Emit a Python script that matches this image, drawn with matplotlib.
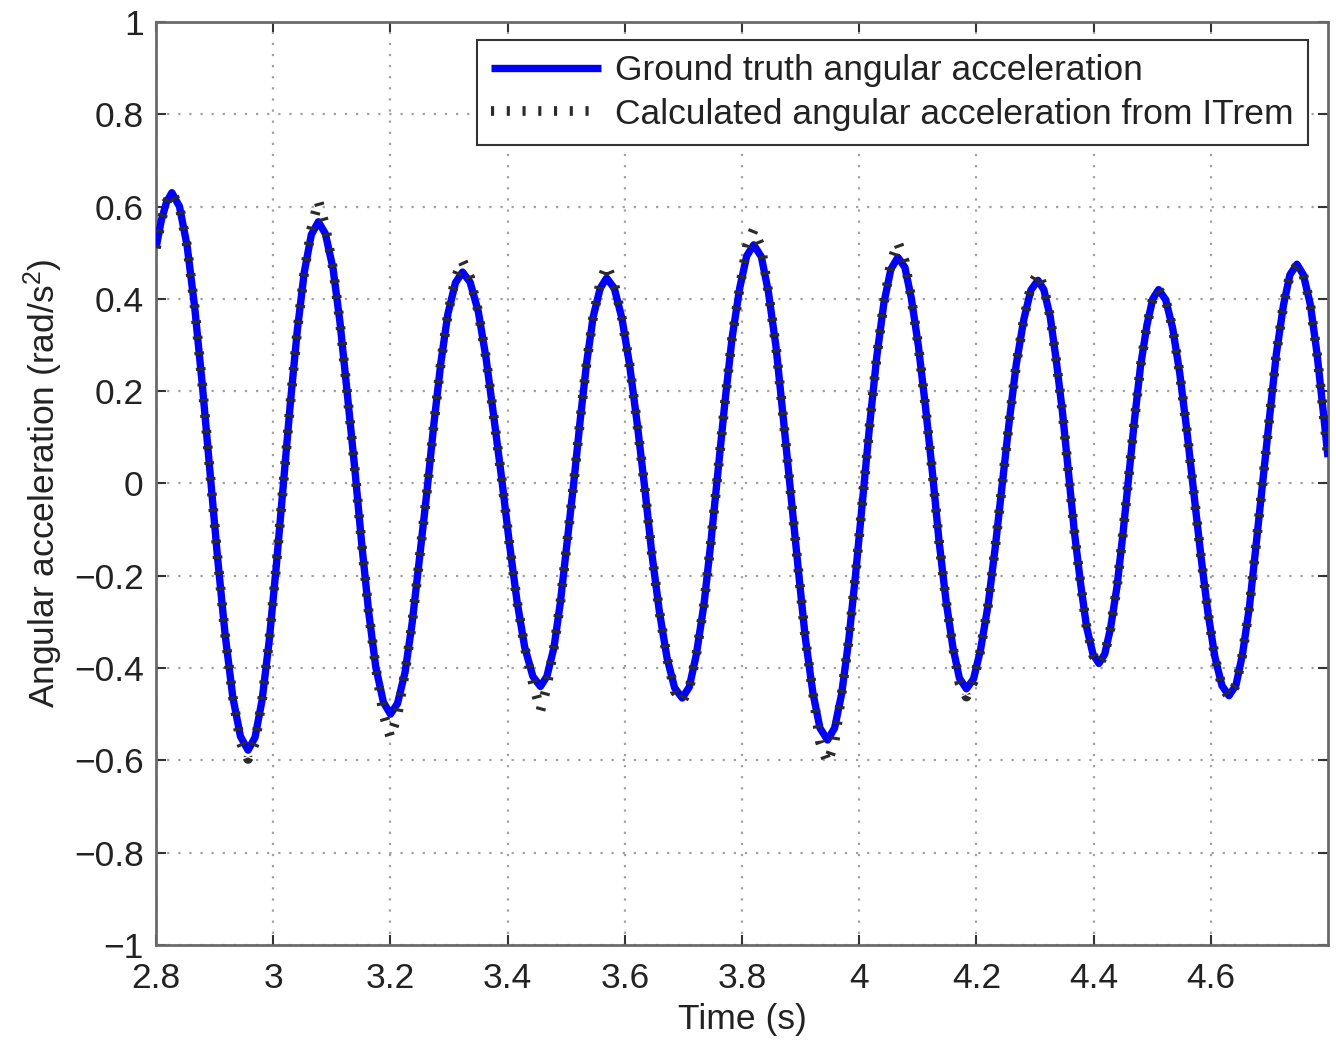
import matplotlib
matplotlib.use("Agg")
import matplotlib.pyplot as plt

# ---- data ----
time_s = [
    2.800, 2.809, 2.818,
    2.827, 2.840, 2.853, 2.866, 2.879, 2.892, 2.905, 2.918, 2.931, 2.944,
    2.957, 2.969, 2.981, 2.993, 3.005, 3.017, 3.029, 3.041, 3.053, 3.065,
    3.077, 3.089, 3.102, 3.114, 3.126, 3.139, 3.151, 3.163, 3.175, 3.188,
    3.200, 3.212, 3.225, 3.237, 3.249, 3.262, 3.274, 3.286, 3.298, 3.311,
    3.323, 3.336, 3.350, 3.363, 3.376, 3.390, 3.403, 3.416, 3.429, 3.443,
    3.456, 3.467, 3.479, 3.490, 3.501, 3.513, 3.524, 3.535, 3.546, 3.558,
    3.569, 3.582, 3.595, 3.608, 3.621, 3.634, 3.646, 3.659, 3.672, 3.685,
    3.698, 3.710, 3.722, 3.735, 3.747, 3.759, 3.771, 3.783, 3.796, 3.808,
    3.820, 3.833, 3.845, 3.858, 3.870, 3.883, 3.896, 3.908, 3.921, 3.933,
    3.946, 3.958, 3.970, 3.982, 3.994, 4.006, 4.018, 4.030, 4.042, 4.054,
    4.066, 4.078, 4.089, 4.101, 4.113, 4.125, 4.136, 4.148, 4.160, 4.171,
    4.183, 4.195, 4.207, 4.220, 4.232, 4.244, 4.256, 4.268, 4.281, 4.293,
    4.305, 4.315, 4.326, 4.336, 4.347, 4.357, 4.367, 4.378, 4.388, 4.399,
    4.409, 4.419, 4.429, 4.440, 4.450, 4.460, 4.470, 4.480, 4.491, 4.501,
    4.511, 4.523, 4.535, 4.547, 4.559, 4.571, 4.583, 4.595, 4.607, 4.619,
    4.631, 4.643, 4.654, 4.666, 4.677, 4.689, 4.701, 4.712, 4.724, 4.735,
    4.747, 4.758, 4.770, 4.781, 4.792, 4.800,
]

ground_truth = [
    0.510, 0.570, 0.610,
    0.630, 0.600, 0.515, 0.381, 0.213, 0.026, -0.161, -0.329, -0.463, -0.548,
    -0.578, -0.550, -0.469, -0.342, -0.182, -0.006, 0.171, 0.331, 0.458, 0.539,
    0.567, 0.541, 0.466, 0.348, 0.199, 0.034, -0.131, -0.280, -0.398, -0.474,
    -0.500, -0.477, -0.409, -0.303, -0.169, -0.021, 0.127, 0.261, 0.367, 0.435,
    0.458, 0.436, 0.372, 0.273, 0.148, 0.009, -0.130, -0.255, -0.354, -0.418,
    -0.440, -0.418, -0.356, -0.258, -0.134, 0.003, 0.139, 0.263, 0.361, 0.423,
    0.445, 0.423, 0.358, 0.258, 0.131, -0.010, -0.151, -0.278, -0.378, -0.443,
    -0.465, -0.441, -0.371, -0.263, -0.126, 0.026, 0.178, 0.315, 0.423, 0.493,
    0.517, 0.491, 0.415, 0.296, 0.147, -0.020, -0.186, -0.335, -0.454, -0.530,
    -0.556, -0.530, -0.456, -0.341, -0.195, -0.033, 0.129, 0.275, 0.390, 0.464,
    0.490, 0.468, 0.401, 0.298, 0.167, 0.023, -0.122, -0.253, -0.356, -0.422,
    -0.445, -0.424, -0.361, -0.263, -0.140, -0.003, 0.134, 0.258, 0.356, 0.419,
    0.440, 0.420, 0.361, 0.269, 0.153, 0.025, -0.103, -0.219, -0.311, -0.370,
    -0.390, -0.370, -0.313, -0.223, -0.110, 0.015, 0.140, 0.253, 0.343, 0.400,
    0.420, 0.398, 0.336, 0.239, 0.116, -0.020, -0.156, -0.279, -0.376, -0.438,
    -0.460, -0.437, -0.371, -0.267, -0.137, 0.008, 0.152, 0.282, 0.386, 0.452,
    0.475, 0.452, 0.387, 0.284, 0.155, 0.057,
]

calculated = [
    0.510, 0.570, 0.610,
    0.630, 0.600, 0.515, 0.381, 0.213, 0.026, -0.161, -0.329, -0.463, -0.560,
    -0.597, -0.562, -0.469, -0.342, -0.182, -0.006, 0.171, 0.331, 0.458, 0.552,
    0.612, 0.557, 0.466, 0.348, 0.199, 0.034, -0.131, -0.280, -0.398, -0.500,
    -0.550, -0.502, -0.409, -0.303, -0.169, -0.021, 0.127, 0.261, 0.367, 0.446,
    0.482, 0.446, 0.372, 0.273, 0.148, 0.009, -0.130, -0.255, -0.354, -0.432,
    -0.492, -0.440, -0.356, -0.258, -0.134, 0.003, 0.139, 0.263, 0.361, 0.435,
    0.472, 0.432, 0.358, 0.258, 0.131, -0.010, -0.151, -0.278, -0.378, -0.450,
    -0.472, -0.445, -0.371, -0.263, -0.126, 0.026, 0.178, 0.315, 0.423, 0.512,
    0.550, 0.510, 0.415, 0.296, 0.147, -0.020, -0.186, -0.335, -0.454, -0.560,
    -0.605, -0.560, -0.456, -0.341, -0.195, -0.033, 0.129, 0.275, 0.390, 0.478,
    0.522, 0.480, 0.401, 0.298, 0.167, 0.023, -0.122, -0.253, -0.356, -0.432,
    -0.462, -0.430, -0.361, -0.263, -0.140, -0.003, 0.134, 0.258, 0.356, 0.428,
    0.455, 0.425, 0.361, 0.269, 0.153, 0.025, -0.103, -0.219, -0.311, -0.372,
    -0.392, -0.370, -0.313, -0.223, -0.110, 0.015, 0.140, 0.253, 0.343, 0.400,
    0.420, 0.398, 0.336, 0.239, 0.116, -0.020, -0.156, -0.279, -0.376, -0.440,
    -0.462, -0.437, -0.371, -0.267, -0.137, 0.008, 0.152, 0.282, 0.386, 0.452,
    0.472, 0.452, 0.387, 0.284, 0.155, 0.057,
]

x_ticks = [2.8, 3.0, 3.2, 3.4, 3.6, 3.8, 4.0, 4.2, 4.4, 4.6]
x_tick_labels = ["2.8", "3", "3.2", "3.4", "3.6", "3.8", "4", "4.2", "4.4", "4.6"]
y_ticks = [-1.0, -0.8, -0.6, -0.4, -0.2, 0.0, 0.2, 0.4, 0.6, 0.8, 1.0]
y_tick_labels = ["\u22121", "\u22120.8", "\u22120.6", "\u22120.4", "\u22120.2", "0",
                 "0.2", "0.4", "0.6", "0.8", "1"]

label_truth = "Ground truth angular acceleration"
label_calc = "Calculated angular acceleration from ITrem"

# ---- styling ----
plt.rcParams["font.family"] = ["Liberation Sans", "DejaVu Sans"]
plt.rcParams["mathtext.fontset"] = "custom"
plt.rcParams["mathtext.rm"] = "Liberation Sans"
plt.rcParams["mathtext.it"] = "Liberation Sans"

fig = plt.figure(figsize=(13.36, 10.43), dpi=100)
ax = fig.add_axes([0.1168, 0.094, 0.8772, 0.885])

axis_grey = "#6a6a6a"
text_col = "#222222"
fs = 25.5

ax.plot(time_s, ground_truth, color="#0000ff", lw=5.3, label=label_truth,
        solid_capstyle="butt", zorder=3)
ax.plot(time_s, calculated, color="#2a2a2a", lw=7.0, linestyle=(0, (0.32, 1.3)),
        label=label_calc, zorder=4)

ax.set_xlim(2.8, 4.8)
ax.set_ylim(-1, 1)
ax.set_xticks(x_ticks)
ax.set_xticklabels(x_tick_labels)
ax.set_yticks(y_ticks)
ax.set_yticklabels(y_tick_labels)

ax.grid(True, color="#a0a0a0", linestyle=(0, (1, 4)), lw=1.6)
for s in ax.spines.values():
    s.set_color(axis_grey)
    s.set_linewidth(2.0)
ax.tick_params(direction="in", length=7, width=1.5, color="#333333",
               top=True, right=True, labelsize=fs, labelcolor=text_col)
ax.tick_params(axis="x", pad=12)
ax.tick_params(axis="y", pad=9)

ax.set_xlabel("Time (s)", fontsize=fs, color=text_col, labelpad=6)
ax.set_ylabel("Angular acceleration (rad/s$^2$)", fontsize=fs, color=text_col,
              labelpad=6)

leg = ax.legend(loc="upper right", fontsize=fs, fancybox=False, framealpha=1,
                edgecolor="#333333", borderaxespad=0.0, handlelength=3.1,
                borderpad=0.4, labelspacing=0.3, handletextpad=0.4,
                bbox_to_anchor=(0.983, 0.9805))
leg.get_frame().set_linewidth(1.5)
for t in leg.get_texts():
    t.set_color(text_col)

fig.savefig("out.png", dpi=100, facecolor="white")
